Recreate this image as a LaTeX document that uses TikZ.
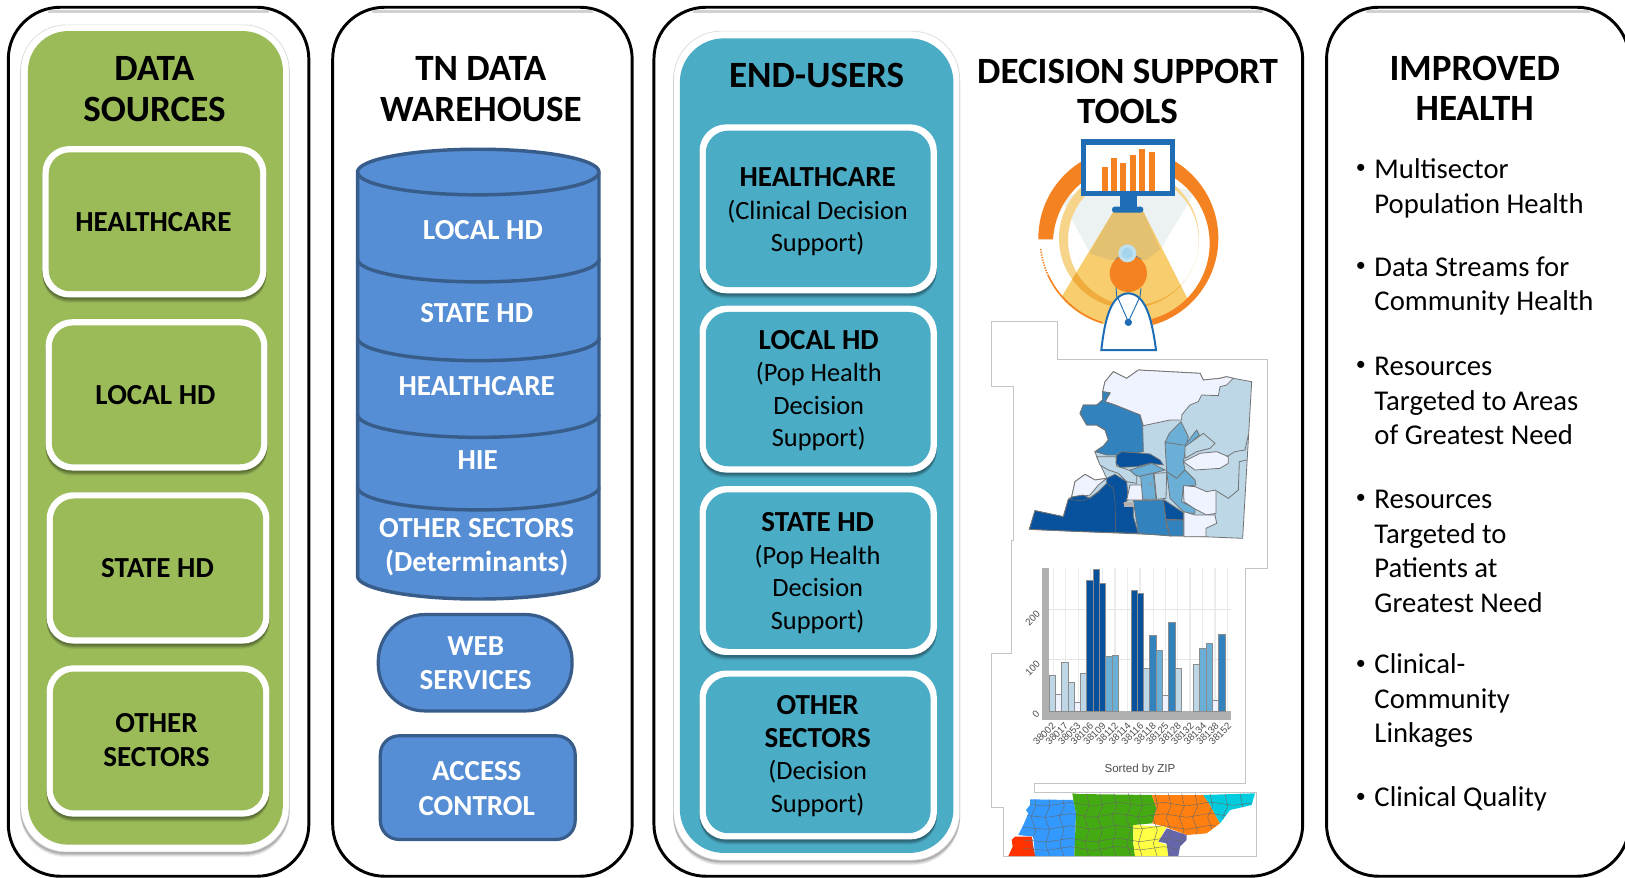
\documentclass[tikz,border=0pt]{standalone}
\usepackage{fontspec}
\setmainfont{Carlito}
\newfontfamily\chartfont{Liberation Sans}
\definecolor{greenfill}{HTML}{9BBB59}
\definecolor{tealfill}{HTML}{4BACC6}
\definecolor{dbfill}{HTML}{558ED5}
\definecolor{dbline}{HTML}{385D8A}
\definecolor{frameline}{HTML}{C4C4C4}
\definecolor{cA}{HTML}{EFF3FF}
\definecolor{cB}{HTML}{BDD7E7}
\definecolor{cC}{HTML}{6BAED6}
\definecolor{cD}{HTML}{3182BD}
\definecolor{cE}{HTML}{08519C}
\definecolor{icoorange}{HTML}{F58220}
\definecolor{icoblue}{HTML}{1F6DB5}
\definecolor{icoyellow}{HTML}{F8CD6E}
\definecolor{icogrey}{HTML}{ECF1F2}
\definecolor{icomid}{HTML}{E3C170}
\definecolor{icopale}{HTML}{F6D58B}
\definecolor{icolow}{HTML}{F0AC3C}
\definecolor{icolensa}{HTML}{BFE0EE}
\definecolor{icolensb}{HTML}{A5D5EC}
\definecolor{tnblue}{HTML}{3399FF}
\definecolor{tngreen}{HTML}{44AA11}
\definecolor{tnorange}{HTML}{FF8010}
\definecolor{tncyan}{HTML}{00CCDD}
\definecolor{tnyellow}{HTML}{FFFF44}
\definecolor{tnpurple}{HTML}{6666AA}
\definecolor{tnred}{HTML}{FF3300}
\newcommand{\hd}[1]{{\fontsize{21.8}{24.4}\selectfont\bfseries #1}}
\tikzset{
  disp/.style={scale=1.03635},
  zoomat/.style 2 args={shift={(#1,#2)},scale=1/3},
  panel/.style={draw=black,line width=2.2pt,fill=white,rounded corners=39pt},
  title/.style={inner sep=0pt,align=center,font=\fontsize{27.8}{30.3}\selectfont\bfseries},
  boldtxt/.style={inner sep=0pt,align=center,font=\fontsize{21.8}{25.9}\selectfont\bfseries},
  tealtxt/.style={inner sep=0pt,align=center,font=\fontsize{19.8}{24.4}\selectfont},
  listtxt/.style={inner sep=0pt,anchor=west,align=left,font=\fontsize{21.5}{25.9}\selectfont},
  whitetxt/.style={boldtxt,text=white},
  mapcell/.style={draw=black!55,line width=.6pt},
  barcell/.style={draw=black!45,line width=.5pt},
  tick/.style={inner sep=0pt,text=black!70,font=\fontsize{7.3}{8}\chartfont,rotate=45},
  tn/.style={line width=.3pt,draw=black!60},
}
\newcommand{\softbox}[6]{% x1 y1 x2 y2 radius color
  \foreach \d/\o in {5/.06,4/.08,3/.10,2/.12}{
    \fill[black,opacity=\o,rounded corners=#5] (#1-.5,#2+\d) rectangle (#3+.5,#4+\d);
  }
  \path[fill=#6,rounded corners=#5] (#1,#2) rectangle (#3,#4);
}
\newcommand{\whitebox}[4]{%
  \foreach \d/\o in {5/.08,4/.10,3/.12,2/.14}{
    \fill[black,opacity=\o,rounded corners=20pt] (#1,#2+\d) rectangle (#3,#4+\d);
  }
  \path[fill=white,rounded corners=20pt] (#1,#2) rectangle (#3,#4);
}
\begin{document}
\begin{tikzpicture}[x=.75pt,y=-.75pt]
\clip (0,0) rectangle (1625,878);
\fill[white] (0,0) rectangle (1625,878);
\begin{scope}[disp]
% outer panels
\foreach \a/\b in {8/298,321/610,631/1257,1280/1572}{
  \draw[panel] (\a,7) rectangle (\b,845.5);
  \draw[black!18,line width=2pt] (\a+38,11) -- (\b-38,11);
}
% data sources
\softbox{20}{24}{279}{822}{34pt}{white}
\draw[black!15,line width=.5pt,rounded corners=34pt] (20,24) rectangle (279,822);
\path[fill=greenfill,rounded corners=30pt] (27,30) rectangle (273,815);
\foreach \x/\yy/\w in {41/141/216,44/308/214,45/475/215,45/642/215}{
  \pgfmathsetmacro\xb{\x+\w}\pgfmathsetmacro\yb{\yy+146}
  \whitebox{\x}{\yy}{\xb}{\yb}
  \path[fill=greenfill,rounded corners=16pt] (\x+6,\yy+6) rectangle (\xb-6,\yb-6);
}
\node[title] (dstitle) at (149,86) {DATA\\SOURCES};
\node[boldtxt] (dsa) at (148,214) {HEALTHCARE};
\node[boldtxt] (dsb) at (150,381) {LOCAL HD};
\node[boldtxt] (dsc) at (152,548) {STATE HD};
\node[boldtxt] (dsd) at (151,714) {OTHER\\SECTORS};
% warehouse
\node[title] (twtitle) at (464,86) {TN DATA\\WAREHOUSE};
\draw[draw=dbline,line width=2.6pt,fill=dbfill] (345,166) -- (345,556) arc[start angle=180,end angle=0,x radius=116.5,y radius=22] -- (578,166) arc[start angle=0,end angle=-180,x radius=116.5,y radius=22] -- cycle;
\draw[draw=dbline,line width=2.6pt] (345,166) arc[start angle=180,end angle=0,x radius=116.5,y radius=22];
\foreach \c in {250,326,400,470}{
  \draw[draw=dbline,line width=2.6pt] (345,\c) arc[start angle=180,end angle=0,x radius=116.5,y radius=22];
}
\node[whitetxt] (wa) at (466,222) {LOCAL HD};
\node[whitetxt] (wb) at (460,302) {STATE HD};
\node[whitetxt] (wc) at (460,373) {HEALTHCARE};
\node[whitetxt] (wd) at (461,444) {HIE};
\node[whitetxt] (we) at (460,528) {OTHER SECTORS\\(Determinants)};
\draw[draw=dbline,line width=2.4pt,fill=dbfill,rounded corners=35pt] (365,593) rectangle (552,686);
\node[whitetxt] (wf) at (459,640) {WEB\\SERVICES};
\draw[draw=dbline,line width=2.4pt,fill=dbfill,rounded corners=14pt] (367,710) rectangle (555,810);
\node[whitetxt] (wg) at (460,761) {ACCESS\\CONTROL};
% end users
\softbox{650}{30}{926}{830}{36pt}{white}
\draw[black!15,line width=.5pt,rounded corners=36pt] (650,30) rectangle (926,830);
\path[fill=tealfill,rounded corners=33pt] (656,37) rectangle (920,823);
\foreach \yy/\yb in {120/283,295/456,469/632,647/810}{
  \whitebox{675}{\yy}{904}{\yb}
  \path[fill=tealfill,rounded corners=17pt] (681,\yy+6) rectangle (898,\yb-6);
}
\node[title] (eutitle) at (788,73) {END-USERS};
\node[tealtxt] (eua) at (789,204.5) {\hd{HEALTHCARE}\\(Clinical Decision\\Support)};
\node[tealtxt] (eub) at (790,377) {\hd{LOCAL HD}\\(Pop Health\\Decision\\Support)};
\node[tealtxt] (euc) at (789,553) {\hd{STATE HD}\\(Pop Health\\Decision\\Support)};
\node[tealtxt] (eud) at (789,729.5) {\hd{OTHER}\\\hd{SECTORS}\\(Decision\\Support)};
\node[title] (dttitle) at (1088,88) {DECISION SUPPORT\\TOOLS};
% improved health
\node[title] (ihtitle) at (1423,85) {IMPROVED\\HEALTH};
\foreach \nm/\yy in {a/163,b/258,c/353,d/481,e/642,f/770}{
  \node[inner sep=0pt,font=\fontsize{15}{18}\selectfont] (bul\nm) at (1313,\yy) {•};
}
\node[listtxt] (iha) at (1326,181.5) {Multisector\\Population Health};
\node[listtxt] (ihb) at (1326,276) {Data Streams for\\Community Health};
\node[listtxt] (ihc) at (1326,387) {Resources\\Targeted to Areas\\of Greatest Need};
\node[listtxt] (ihd) at (1326,532) {Resources\\Targeted to\\Patients at\\Greatest Need};
\node[listtxt] (ihe) at (1326,676) {Clinical-\\Community\\Linkages};
\node[listtxt] (ihf) at (1326,771) {Clinical Quality};
\end{scope}
% stepped frame of the pasted maps and chart
\draw[frameline,line width=.7pt,fill=white] (991,321) -- (991,386) -- (1013,386) -- (1013,540) -- (1011,540) -- (1011,653) -- (991,653) -- (991,807) -- (1003,807) -- (1003,856) -- (1256,856) -- (1256,792) -- (1034,792) -- (1034,783) -- (1245,783) -- (1245,568) -- (1267,568) -- (1267,359) -- (1057,359) -- (1057,321) -- cycle;
% doctor icon
\begin{scope}[zoomat={940}{120}]
\fill[icogrey] (365,240) -- (425,210) -- (705,200) -- (765,215) -- (660,390) -- (580,420) -- (450,400) -- cycle;
\fill[icopale,even odd rule] (567,355) circle[radius=210] (580,360) circle[radius=196];
\begin{scope}
  \clip (565,355) circle[radius=268];
  \fill[icoyellow] (520,275) -- (610,275) -- (760,570) -- (640,700) -- (480,700) -- (365,530) -- cycle;
  \fill[icomid] (520,275) -- (610,275) -- (660,388) -- (620,420) -- (510,420) -- (448,400) -- cycle;
  \clip (520,275) -- (610,275) -- (760,570) -- (640,700) -- (480,700) -- (365,530) -- cycle;
  \fill[icolow,even odd rule] (567,355) circle[radius=210] (580,360) circle[radius=196];
\end{scope}
\begin{scope}
  \clip (565,358) -- (200,358) -- (200,0) -- (950,0) -- (950,740) -- (675,740) -- cycle;
  \fill[icoorange,even odd rule] (565,355) circle[radius=270] (574,370) circle[radius=235];
\end{scope}
\draw[icoorange,line width=1.2pt,dash pattern=on 1pt off 1pt] (565,355) ++(173:265) arc[start angle=173,end angle=155,radius=265];
\draw[icoorange,line width=1.2pt] (565,355) ++(155:265) arc[start angle=155,end angle=107,radius=265];
% monitor
\fill[icoblue] (540,225) rectangle (590,265);
\fill[icoblue,rounded corners=2pt] (516,260) rectangle (610,278);
\fill[icoblue] (423,58) rectangle (706,228);
\fill[white] (437,74) rectangle (690,212);
\foreach \a/\t in {486/142,513/113,541/128,570/104,598/88,627/96}{
  \fill[icoorange] (\a,\t) rectangle (\a+17,212);
}
% doctor
\draw[icoblue,line width=.7pt] (528,500) -- (530,530);
\draw[icoblue,line width=.7pt] (603,505) -- (600,530);
\fill[icoblue] (525,418) -- (545,405) -- (585,405) -- (605,418) -- cycle;
\fill[icoorange] (565,460) circle[radius=56];
\fill[icolensa] (562,400) circle[radius=27];
\fill[icolensb] (562,400) circle[radius=17];
\draw[icoblue,line width=1.5pt,fill=white] (484,690) .. controls (495,590) and (515,522) .. (565,520) .. controls (615,522) and (635,590) .. (648,690) -- cycle;
\draw[icoblue,line width=.7pt] (532,530) -- (565,605) -- (600,530);
\fill[icoblue] (565,607) circle[radius=11];
\end{scope}
% choropleth map (zoom-2 coordinates)
\begin{scope}[zoomat={950}{340}]
\path[fill=cB,mapcell] (238,568) -- (255,512) -- (340,530) -- (355,478) -- (365,470) -- (375,425) -- (405,403) -- (435,420) -- (470,415) -- (440,350) -- (435,335) -- (460,318) -- (475,300) -- (465,270) -- (440,255) -- (410,255) -- (390,220) -- (400,195) -- (440,195) -- (458,180) -- (458,155) -- (465,125) -- (490,95) -- (530,115) -- (565,90) -- (750,100) -- (760,120) -- (810,115) -- (830,110) -- (850,115) -- (905,125) -- (878,595) -- cycle;
\path[fill=cA,mapcell] (490,95) -- (530,115) -- (565,90) -- (750,100) -- (760,120) -- (810,115) -- (830,110) -- (850,115) -- (830,135) -- (810,140) -- (805,167) -- (755,165) -- (745,185) -- (720,195) -- (695,225) -- (695,240) -- (660,240) -- (580,257) -- (570,225) -- (520,205) -- (495,195) -- (465,185) -- (480,160) -- (458,155) -- (465,125) -- cycle;
\path[fill=cD,mapcell] (458,155) -- (480,158) -- (465,185) -- (495,195) -- (520,205) -- (570,225) -- (578,260) -- (580,335) -- (550,340) -- (500,345) -- (470,345) -- (435,335) -- (460,318) -- (475,300) -- (465,270) -- (440,255) -- (410,255) -- (390,220) -- (400,195) -- (440,195) -- (458,180) -- cycle;
\path[fill=cB,mapcell] (440,350) -- (498,350) -- (500,378) -- (530,388) -- (560,400) -- (560,430) -- (530,425) -- (505,400) -- (475,390) -- (450,375) -- cycle;
\path[fill=cE,mapcell] (500,345) -- (515,335) -- (600,342) -- (630,360) -- (640,375) -- (600,370) -- (560,380) -- (510,382) -- (498,370) -- cycle;
\path[fill=cC,mapcell] (540,390) -- (605,370) -- (645,390) -- (570,410) -- (555,405) -- cycle;
\path[fill=cA,mapcell] (365,470) -- (375,425) -- (405,403) -- (435,420) -- (470,415) -- (445,435) -- (420,465) -- (390,470) -- cycle;
\path[fill=cE,mapcell] (238,568) -- (255,512) -- (340,530) -- (355,478) -- (370,470) -- (400,465) -- (420,475) -- (450,450) -- (470,430) -- (470,415) -- (495,403) -- (530,425) -- (535,480) -- (520,490) -- (550,495) -- (550,530) -- (565,580) -- (400,575) -- cycle;
\draw[black!60,line width=.4pt] (470,430) -- (490,445) -- (495,485) -- (497,575);
\draw[black!60,line width=.4pt] (355,478) -- (400,483) -- (450,455);
\path[fill=cD,mapcell] (550,482) -- (640,480) -- (650,560) -- (662,588) -- (565,580) -- cycle;
\path[fill=cE,mapcell] (640,478) -- (700,518) -- (700,540) -- (648,538) -- cycle;
\path[fill=cD,mapcell] (648,540) -- (700,540) -- (700,588) -- (660,588) -- cycle;
\path[fill=cA,mapcell] (540,435) -- (578,435) -- (580,480) -- (530,480) -- cycle;
\path[fill=black!30] (522,485) rectangle (552,500);
\path[fill=cC,mapcell] (572,408) -- (610,400) -- (618,478) -- (578,478) -- cycle;
\fill[black!40] (602,432) circle[radius=4];
\path[fill=cB,mapcell] (612,400) -- (650,398) -- (648,475) -- (620,478) -- cycle;
\begin{scope}[shift={(510,45)}]
\path[fill=cC,mapcell] (183,200) -- (205,245) -- (190,320) -- (195,345) -- (225,375) -- (228,390) -- (190,395) -- (185,440) -- (225,460) -- (225,475) -- (195,475) -- (150,430) -- (140,350) -- (135,262) -- (148,235) -- cycle;
\draw[mapcell] (135,262) -- (190,270);
\draw[mapcell] (140,350) -- (170,370) -- (195,345);
\path[fill=cC,mapcell] (230,225) -- (238,240) -- (200,275) -- (195,270) -- cycle;
\path[fill=cB,mapcell] (195,310) -- (195,275) -- (250,235) -- (285,265) -- (270,280) -- (230,290) -- cycle;
\path[fill=cA,mapcell] (190,320) -- (240,295) -- (290,290) -- (325,305) -- (325,325) -- (300,340) -- (225,345) -- cycle;
\path[fill=cA,mapcell] (190,392) -- (225,395) -- (260,410) -- (288,405) -- (288,475) -- (260,480) -- (225,462) -- (192,440) -- cycle;
\path[fill=cA,mapcell] (192,470) -- (225,480) -- (285,480) -- (290,505) -- (258,520) -- (258,545) -- (192,545) -- cycle;
\draw[mapcell] (385,240) -- (375,285) -- (345,290) -- (320,305);
\draw[mapcell] (380,315) -- (358,320) -- (355,405) -- (325,430) -- (290,408);
\end{scope}
\end{scope}
% bar chart (zoom-3 coordinates)
\begin{scope}[zoomat={950}{540}]
\foreach \x in {310,347,385,421,458,495,533,570,610,647,683,720,757,795,833}{
  \draw[black!8,line width=.8pt] (\x,85) -- (\x,513);
}
\draw[black!10,line width=.8pt] (298,208) -- (843,208);
\draw[black!10,line width=.8pt] (298,358) -- (843,358);
\fill[black!31] (275,85) rectangle (298,540);
\fill[black!31] (275,513) rectangle (843,540);
\foreach \a/\b/\t/\c in {298/317/407/cB,317/335/463/cA,335/355/366/cB,355/374/428/cB,374/391/487/cA,391/410/399/cB,410/430/120/cE,430/448/87/cE,448/467/131/cE,467/487/350/cC,487/506/345/cC,543/561/152/cE,561/580/159/cE,580/598/386/cB,598/618/286/cD,618/638/332/cC,638/655/466/cA,655/675/247/cD,675/693/384/cB,730/749/373/cB,749/768/324/cC,768/787/309/cC,787/805/481/cA,805/825/283/cD}{
  \path[fill=\c,barcell] (\a,\t) rectangle (\b,513);
}
\node[tick] (ya) at (248,235) {200};
\node[tick] (yb) at (248,385) {100};
\node[tick] (yc) at (258,523) {0};
\foreach \lab [count=\i from 0] in {38002,38017,38053,38106,38109,38112,38114,38116,38118,38125,38128,38132,38134,38138,38152}{
  \node[tick,anchor=north east,inner sep=0pt] (xt\i) at ({304+37.7*\i},544) {\lab};
}
\node[inner sep=0pt,text=black!70,font=\fontsize{8.7}{10}\chartfont] (sortlab) at (570,687) {Sorted by ZIP};
\end{scope}
% state map (zoom-8 coordinates)
\begin{scope}[zoomat={990}{780}]
\fill[tnblue] (120,58) -- (250,60) -- (258,100) -- (253,228) -- (135,228) -- (130,170) -- (85,165) -- (100,135) -- (115,100) -- (108,90) -- (120,75) -- cycle;
\fill[tnred] (75,170) -- (125,170) -- (135,228) -- (55,228) -- (68,200) -- (65,180) -- cycle;
\fill[tngreen] (247,40) -- (265,42) -- (485,45) -- (500,85) -- (487,130) -- (430,135) -- (430,190) -- (435,228) -- (253,228) -- (258,100) -- (250,60) -- cycle;
\fill[tnorange] (485,45) -- (640,45) -- (660,75) -- (690,130) -- (650,160) -- (590,165) -- (530,142) -- (487,130) -- (500,85) -- cycle;
\fill[tncyan] (640,45) -- (795,40) -- (785,75) -- (720,90) -- (690,130) -- (660,75) -- cycle;
\fill[tnyellow] (430,135) -- (530,140) -- (505,185) -- (530,195) -- (535,228) -- (435,228) -- (430,190) -- cycle;
\fill[tnpurple] (530,145) -- (590,165) -- (590,180) -- (570,200) -- (565,228) -- (535,228) -- (530,190) -- (505,185) -- cycle;
\begin{scope}
\clip (120,58) -- (247,60) -- (247,40) -- (795,40) -- (785,75) -- (720,90) -- (690,130) -- (650,160) -- (590,165) -- (590,180) -- (570,200) -- (565,228) -- (55,228) -- (68,200) -- (65,180) -- (75,170) -- (85,165) -- (100,135) -- (115,100) -- (108,90) -- (120,75) -- cycle;
\foreach \x in {130,172,215,290,330,372,415,450,495,535,575,615,660,705,750}{
  \draw[tn] (\x,40) -- (\x+8,78) -- (\x-7,112) -- (\x+7,150) -- (\x-5,190) -- (\x+6,228);
}
\foreach \y in {72,106,142,180,205}{
  \draw[tn] (100,\y) -- (170,\y+6) -- (240,\y-5) -- (310,\y+6) -- (380,\y-6) -- (450,\y+5) -- (520,\y-5) -- (590,\y+6) -- (660,\y-6) -- (730,\y+4) -- (800,\y-5);
}
\end{scope}
\end{scope}
\end{tikzpicture}
\end{document}
